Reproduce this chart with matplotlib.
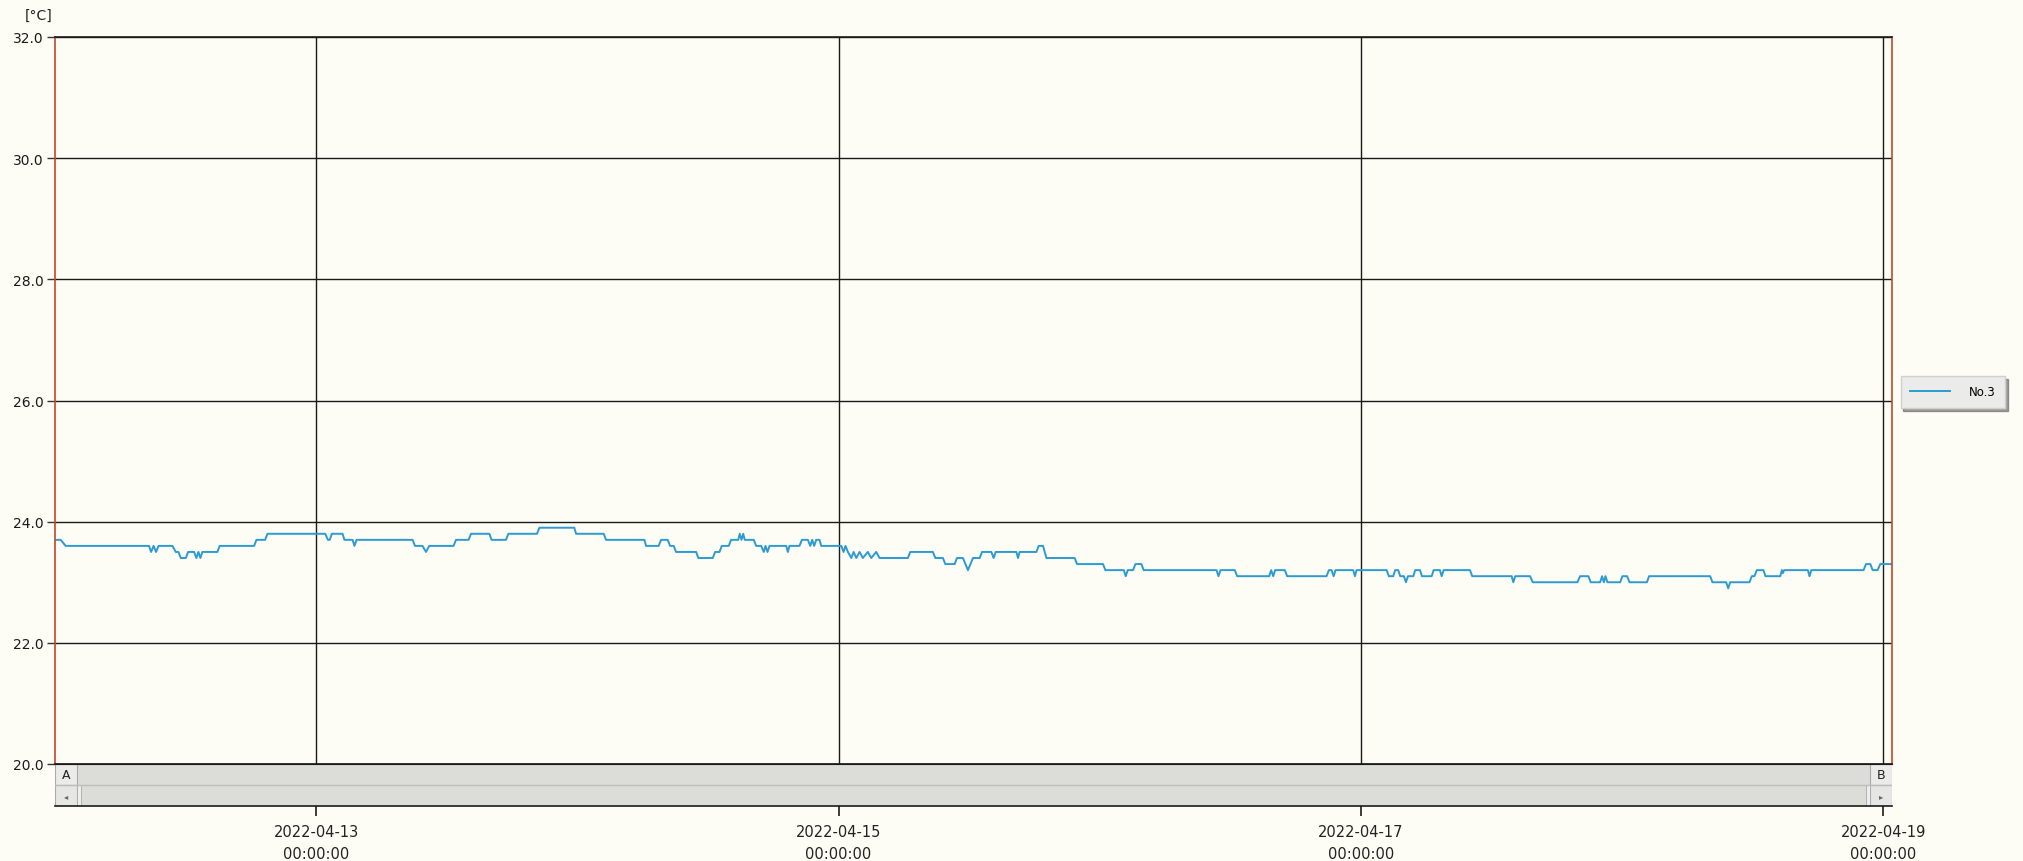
import numpy as np
import pandas as pd
import matplotlib
matplotlib.use("Agg")
import matplotlib.pyplot as plt
import matplotlib.dates as mdates
from matplotlib.patches import Rectangle

# temperature log, No.3 -- hours since 2022-04-12 00:00
start = pd.Timestamp("2022-04-12 00:00:00")
hours = [0.00, 0.52, 0.98, 8.64, 8.83, 9.06, 9.29, 9.52, 10.79, 11.10, 11.34, 11.56,
         12.02, 12.23, 12.78, 12.99, 13.18, 13.36, 13.54, 14.92, 15.14, 18.30, 18.51,
         19.31, 19.52, 24.83, 25.08, 25.25, 25.44, 26.42, 26.60, 27.34, 27.52, 27.71,
         32.86, 33.08, 33.77, 34.09, 34.39, 36.62, 36.85, 38.00, 38.23, 39.91, 40.12,
         41.44, 41.66, 44.29, 44.51, 47.72, 47.88, 50.42, 50.63, 54.16, 54.31, 55.47,
         55.69, 56.30, 56.52, 56.85, 57.07, 58.91, 59.12, 60.44, 60.66, 61.06, 61.27,
         61.91, 62.13, 62.78, 62.92, 63.08, 63.24, 63.38, 64.21, 64.43, 64.89, 65.13,
         65.29, 65.47, 65.66, 67.19, 67.34, 67.49, 68.41, 68.63, 69.18, 69.40, 69.58,
         69.76, 69.95, 70.25, 70.41, 72.25, 72.46, 72.64, 72.86, 73.17, 73.38, 73.63,
         73.93, 74.23, 74.69, 75.00, 75.46, 75.77, 78.37, 78.59, 80.67, 80.89, 81.59,
         81.81, 82.67, 82.88, 83.43, 83.89, 84.35, 84.97, 85.18, 86.04, 86.25, 86.44,
         88.34, 88.49, 88.64, 90.18, 90.39, 90.79, 90.94, 91.10, 93.70, 93.91, 96.30,
         96.52, 98.21, 98.39, 98.57, 99.06, 99.28, 99.83, 100.04, 106.73, 106.91,
         107.10, 108.41, 108.63, 111.57, 111.75, 111.94, 112.12, 113.01, 113.22,
         116.84, 117.06, 117.30, 117.49, 117.67, 119.29, 119.45, 119.60, 122.36,
         122.57, 122.97, 123.15, 123.43, 123.61, 123.95, 124.14, 124.32, 124.81,
         124.99, 125.43, 125.61, 126.50, 126.68, 127.26, 127.42, 127.60, 130.02,
         130.23, 133.85, 134.00, 134.18, 135.54, 135.79, 139.89, 140.14, 140.90,
         141.12, 141.98, 142.16, 142.32, 142.47, 142.65, 143.82, 144.03, 144.46,
         144.68, 146.28, 146.48, 152.09, 152.30, 153.56, 153.75, 153.93, 155.70,
         155.92, 156.16, 156.38, 156.99, 157.17, 158.53, 158.68, 158.77, 158.89,
         161.07, 161.22, 161.38, 166.19, 166.41, 166.81, 167.02, 167.48, 167.72, 168.80]
temps = [23.7, 23.7, 23.6, 23.6, 23.5, 23.6, 23.5, 23.6, 23.6, 23.5, 23.5, 23.4,
         23.4, 23.5, 23.5, 23.4, 23.5, 23.4, 23.5, 23.5, 23.6, 23.6, 23.7,
         23.7, 23.8, 23.8, 23.7, 23.7, 23.8, 23.8, 23.7, 23.7, 23.6, 23.7,
         23.7, 23.6, 23.6, 23.5, 23.6, 23.6, 23.7, 23.7, 23.8, 23.8, 23.7,
         23.7, 23.8, 23.8, 23.9, 23.9, 23.8, 23.8, 23.7, 23.7, 23.6, 23.6,
         23.7, 23.7, 23.6, 23.6, 23.5, 23.5, 23.4, 23.4, 23.5, 23.5, 23.6,
         23.6, 23.7, 23.7, 23.8, 23.7, 23.8, 23.7, 23.7, 23.6, 23.6, 23.5,
         23.6, 23.5, 23.6, 23.6, 23.5, 23.6, 23.6, 23.7, 23.7, 23.6, 23.7,
         23.6, 23.7, 23.7, 23.6, 23.6, 23.5, 23.6, 23.5, 23.4, 23.5, 23.4,
         23.5, 23.4, 23.5, 23.4, 23.5, 23.4, 23.4, 23.5, 23.5, 23.4, 23.4,
         23.3, 23.3, 23.4, 23.4, 23.2, 23.4, 23.4, 23.5, 23.5, 23.4, 23.5,
         23.5, 23.4, 23.5, 23.5, 23.6, 23.6, 23.5, 23.4, 23.4, 23.3, 23.3,
         23.2, 23.2, 23.1, 23.2, 23.2, 23.3, 23.3, 23.2, 23.2, 23.1,
         23.2, 23.2, 23.1, 23.1, 23.2, 23.1, 23.2, 23.2, 23.1,
         23.1, 23.2, 23.2, 23.1, 23.2, 23.2, 23.1, 23.2, 23.2,
         23.1, 23.1, 23.2, 23.2, 23.1, 23.1, 23.0, 23.1, 23.1,
         23.2, 23.2, 23.1, 23.1, 23.2, 23.2, 23.1, 23.2, 23.2,
         23.1, 23.1, 23.0, 23.1, 23.1, 23.0, 23.0, 23.1, 23.1,
         23.0, 23.0, 23.1, 23.0, 23.1, 23.0, 23.0, 23.1, 23.1,
         23.0, 23.0, 23.1, 23.1, 23.0, 23.0, 22.9, 23.0, 23.0,
         23.1, 23.1, 23.2, 23.2, 23.1, 23.1, 23.2, 23.15, 23.2,
         23.2, 23.1, 23.2, 23.2, 23.3, 23.3, 23.2, 23.2, 23.3, 23.3]
series_name = "No.3"
y_ticks = [20.0, 22.0, 24.0, 26.0, 28.0, 30.0, 32.0]
x_tick_days = [13, 15, 17, 19]

times = start + pd.to_timedelta(hours, unit="h")

bg = "#fdfdf5"
red = "#c4462b"
W, H = 2023, 862
fig = plt.figure(figsize=(W / 100, H / 100), dpi=100, facecolor=bg)

# main plot area
ax = fig.add_axes([55 / W, 1 - 765 / H, (1892 - 55) / W, (765 - 38) / H], facecolor=bg)
line, = ax.plot(times, temps, color="#2b9bd1", lw=1.4, label=series_name)
ax.set_ylim(20, 32)
ax.set_xlim(start, start + pd.Timedelta(hours=168.8))
ax.set_yticks(y_ticks)
ax.yaxis.set_major_formatter(matplotlib.ticker.FormatStrFormatter("%.1f"))
ax.xaxis.set_major_locator(mdates.DayLocator(bymonthday=x_tick_days))
ax.tick_params(axis="y", length=6, width=1, color="#333", labelsize=10, labelcolor="#1a1a1a", pad=2)
ax.tick_params(axis="x", length=0, labelbottom=False)
ax.grid(True, color="#1a1a1a", lw=1.0)
for s in ["top", "bottom"]:
    ax.spines[s].set_color("#1a1a1a")
    ax.spines[s].set_linewidth(1.2)
for s in ["left", "right"]:
    ax.spines[s].set_color(red)
    ax.spines[s].set_linewidth(1.2)

fig.text(25 / W, 1 - 16 / H, "[°C]", fontsize=10, color="#222", va="center", ha="left")

ax.legend(loc="center", bbox_to_anchor=(1953 / W, 1 - 393 / H), bbox_transform=fig.transFigure,
          fontsize=8.5, frameon=True, fancybox=False, shadow=True, facecolor="#ebebe9",
          edgecolor="#d0d0d0", handlelength=3.4, handletextpad=1.6, borderpad=0.8,
          framealpha=1)

# scroll bar strip under the plot, carries the time axis
sb = fig.add_axes([55 / W, 1 - 807 / H, (1892 - 55) / W, (807 - 765) / H], facecolor="#dcdcd8",
                  sharex=ax)
sb.set_ylim(0, 1)
sb.set_yticks([])
for s in ["left", "right"]:
    sb.spines[s].set_visible(False)
sb.spines["top"].set_color("#1a1a1a")
sb.spines["bottom"].set_color("#1a1a1a")
sb.spines["bottom"].set_linewidth(1.2)
sb.axhline(0.5, color="#bdbdba", lw=1)
cw = 22 / (1892 - 55)
tt = sb.transAxes
sb.add_patch(Rectangle((0, 0.5), cw, 0.5, transform=tt, fc="#ebebea", ec="#aaaaaa", lw=0.8))
sb.add_patch(Rectangle((0, 0), cw, 0.5, transform=tt, fc="#e6e6e4", ec="#aaaaaa", lw=0.8))
sb.add_patch(Rectangle((1 - cw, 0.5), cw, 0.5, transform=tt, fc="#ebebea", ec="#aaaaaa", lw=0.8))
sb.add_patch(Rectangle((1 - cw, 0), cw, 0.5, transform=tt, fc="#e6e6e4", ec="#aaaaaa", lw=0.8))
sb.add_patch(Rectangle((cw, 0), 4 / 1837, 0.5, transform=tt, fc="#eeeeec", ec="#aaaaaa", lw=0.6))
sb.add_patch(Rectangle((1 - cw - 4 / 1837, 0), 4 / 1837, 0.5, transform=tt, fc="#eeeeec",
                       ec="#aaaaaa", lw=0.6))
sb.text(cw / 2, 0.75, "A", transform=tt, ha="center", va="center", fontsize=9, color="#222")
sb.text(1 - cw / 2, 0.75, "B", transform=tt, ha="center", va="center", fontsize=9, color="#222")
sb.text(cw / 2, 0.25, "◂", transform=tt, ha="center", va="center", fontsize=6, color="#666")
sb.text(1 - cw / 2, 0.25, "▸", transform=tt, ha="center", va="center", fontsize=6, color="#666")

sb.xaxis.set_major_locator(mdates.DayLocator(bymonthday=x_tick_days))
sb.xaxis.set_major_formatter(mdates.DateFormatter("%Y-%m-%d\n%H:%M:%S"))
sb.tick_params(axis="x", length=7, width=1.2, color="#1a1a1a", labelsize=10.5,
               labelcolor="#222", pad=6)
for lab in sb.get_xticklabels():
    lab.set_linespacing(1.6)

plt.savefig("out.png", dpi=100, facecolor=bg)
